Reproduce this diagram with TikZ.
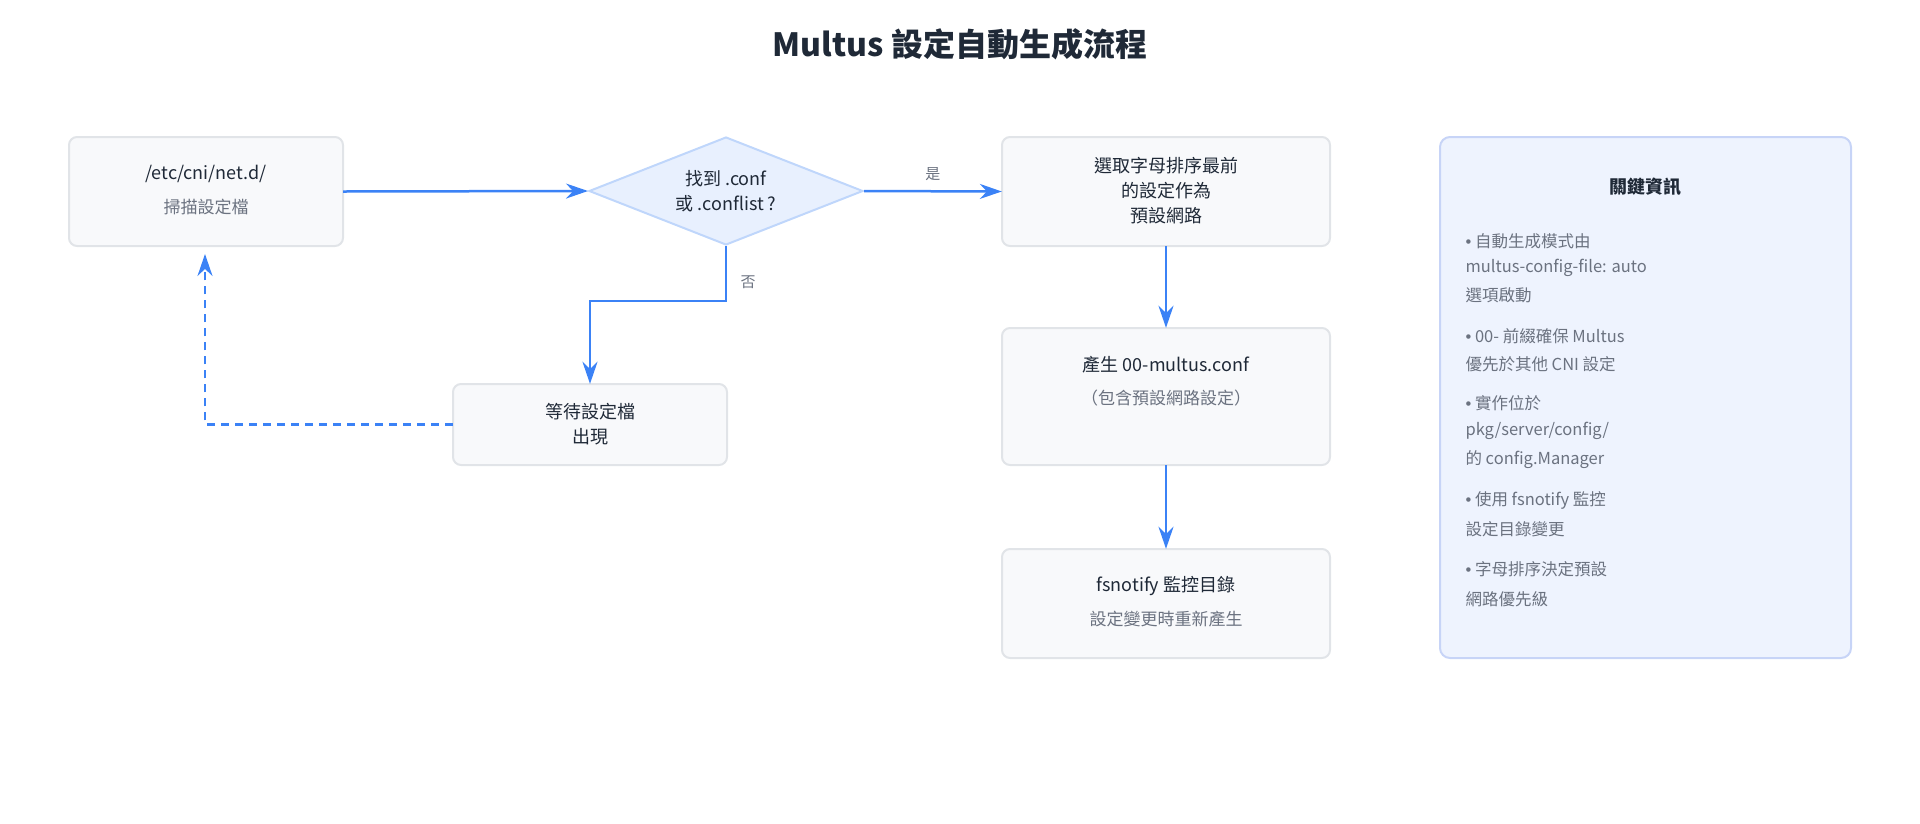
\documentclass[tikz,border=0pt]{standalone}
\usepackage{fontspec}
\setmainfont{Noto Sans CJK TC}
\newfontfamily\lat{Liberation Sans}
\usetikzlibrary{shapes.geometric,arrows.meta}
\definecolor{bfill}{HTML}{F8F9FB}
\definecolor{bline}{HTML}{E1E4E8}
\definecolor{dfill}{HTML}{E8F0FE}
\definecolor{dline}{HTML}{BFD6FB}
\definecolor{arr}{HTML}{3B82F6}
\definecolor{ifill}{HTML}{EEF3FE}
\definecolor{iline}{HTML}{C7D4F7}
\definecolor{tdark}{HTML}{1F2937}
\definecolor{tgrey}{HTML}{6B7280}
\tikzset{
 box/.style={draw=bline,fill=bfill,line width=2pt,rounded corners=8pt,align=center,text=tdark},
 con/.style={draw=arr,line width=2.5pt,-{Stealth[length=22pt,width=15pt,fill=arr]}},
 main/.style={font=\fontsize{18}{25}\selectfont,text=tdark},
 sub/.style={font=\fontsize{17}{23}\selectfont,text=tgrey},
 info/.style={font=\fontsize{16.5}{22}\selectfont,text=tgrey,anchor=west,align=left},
}
\newcommand{\bul}{{\lat •}\ }
\begin{document}
\begin{tikzpicture}[x=1pt,y=-1pt]
\useasboundingbox (0,0) rectangle (1920,823);
\node[font=\fontsize{32}{38}\selectfont\bfseries,text=tdark] (title) at (960,44) {Multus 設定自動生成流程};
\draw[box] (69,137) rectangle (343,246);
\node (b1) at (206,191.5) [minimum width=274pt,minimum height=109pt] {};
\node[main] (b1t) at (206,174) {/etc/cni/net.d/};
\node[sub] (b1s) at (206,207) {掃描設定檔};
\node[diamond,draw=dline,fill=dfill,line width=2pt,aspect=2.5,minimum width=274pt,minimum height=108pt,inner sep=0] (d) at (726,191) {};
\node[main,align=center] at (726,191) {找到 .conf\\或 .conflist ?};
\draw[box] (1002,137) rectangle (1330,246);
\node (b2) at (1166,191.5) [minimum width=328pt,minimum height=109pt] {};
\node[main,align=center] at (1166,191) {選取字母排序最前\\的設定作為\\預設網路};
\draw[box] (1002,328) rectangle (1330,465);
\node (b3) at (1166,396.5) [minimum width=328pt,minimum height=137pt] {};
\node[main] at (1166,365) {產生 00-multus.conf};
\node[sub] at (1166,398) {（包含預設網路設定）};
\draw[box] (1002,549) rectangle (1330,658);
\node (b4) at (1166,603.5) [minimum width=328pt,minimum height=109pt] {};
\node[main] at (1166,586) {fsnotify 監控目錄};
\node[sub] at (1166,619) {設定變更時重新產生};
\draw[box] (453,384) rectangle (727,465);
\node (w) at (590,424.5) [minimum width=274pt,minimum height=81pt] {};
\node[main,align=center] at (590,424) {等待設定檔\\出現};
\draw[draw=iline,fill=ifill,line width=2pt,rounded corners=10pt] (1440,137) rectangle (1851,658);
\node[font=\fontsize{18}{24}\selectfont\bfseries,text=tdark] (it) at (1645,187) {關鍵資訊};
\node[info] at (1462,241) {\bul 自動生成模式由};
\node[info] at (1462,268) {multus-config-file: auto};
\node[info] at (1462,295) {選項啟動};
\node[info] at (1462,336) {\bul 00- 前綴確保 Multus};
\node[info] at (1462,364) {優先於其他 CNI 設定};
\node[info] at (1462,403) {\bul 實作位於};
\node[info] at (1462,431) {pkg/server/config/};
\node[info] at (1462,460) {的 config.Manager};
\node[info] at (1462,500) {\bul 使用 fsnotify 監控};
\node[info] at (1462,529) {設定目錄變更};
\node[info] at (1462,569) {\bul 字母排序決定預設};
\node[info] at (1462,599) {網路優先級};
\draw[con] (b1.east) -- (d.west);
\draw[con] (d.east) -- (b2.west) node[midway,above=6pt,sub,font=\fontsize{15}{20}\selectfont] {是};
\draw[con] (d.south) -- (726,301) -- (590,301) -- (w.north);
\node[sub,font=\fontsize{15}{20}\selectfont] (no) at (748,282) {否};
\draw[con] (b2.south) -- (b3.north);
\draw[con] (b3.south) -- (b4.north);
\draw[con,dash pattern=on 8pt off 6pt] (w.west) -- (205,424.5) -- (205,254);
\end{tikzpicture}
\end{document}
